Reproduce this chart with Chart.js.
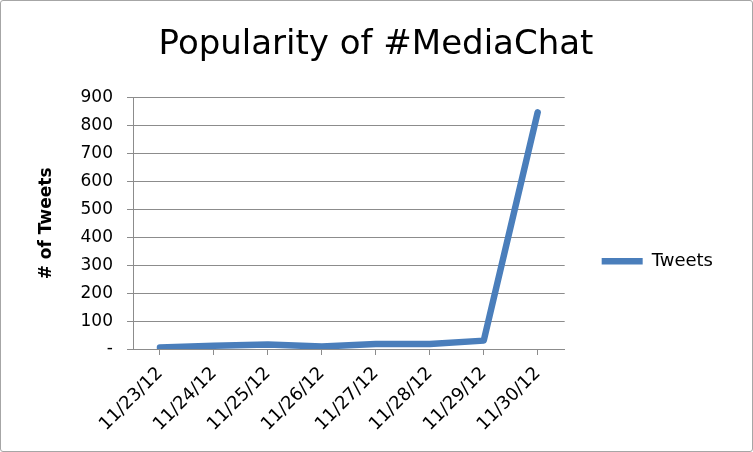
<!DOCTYPE html>
<html>
<head>
<meta charset="utf-8">
<script src="https://cdn.jsdelivr.net/npm/chart.js@4"></script>
<style>
  body { margin: 0; background: #fff; }
  .frame {
    position: absolute; left: 0; top: 0;
    width: 751px; height: 450px;
    border: 1px solid #a6a6a6; border-radius: 3px;
  }
</style>
</head>
<body>
<div class="frame"><canvas id="myChart" width="751" height="450"></canvas></div>
<script>
const dates = ["11/23/12", "11/24/12", "11/25/12", "11/26/12", "11/27/12", "11/28/12", "11/29/12", "11/30/12"];
const tweets = [5, 12, 16, 9, 18, 18, 30, 848];
const yTicks = [0, 100, 200, 300, 400, 500, 600, 700, 800, 900];

const FONT = "'DejaVu Sans', sans-serif";
const myChart = document.getElementById("myChart");

new Chart(myChart, {
    type: "line",
    data: {
        labels: dates,
        datasets: [
            {
                label: "Tweets",
                data: tweets,
                borderColor: "#4a7ebb",
                backgroundColor: "#4a7ebb",
                borderWidth: 6.5,
                borderCapStyle: "round",
                borderJoinStyle: "round",
                pointRadius: 0,
                tension: 0,
            },
        ],
    },
    options: {
        responsive: false,
        animation: false,
        layout: {
            padding: { left: 28, right: 29, top: 0, bottom: 0 },
        },
        scales: {
            x: {
                offset: true,
                grid: {
                    drawOnChartArea: false,
                    drawTicks: true,
                    tickLength: 6,
                    color: "#8c8c8c",
                },
                border: { color: "#8c8c8c", width: 1 },
                ticks: {
                    minRotation: 45,
                    maxRotation: 45,
                    color: "#000",
                    font: { family: FONT, size: 18 },
                    padding: 8,
                },
                afterFit: (s) => { s.height = 102; },
            },
            y: {
                min: 0,
                max: 900,
                afterBuildTicks: (s) => { s.ticks = yTicks.map((v) => ({ value: v })); },
                grid: {
                    color: "#8c8c8c",
                    tickLength: 6,
                },
                border: { color: "#8c8c8c", width: 1 },
                ticks: {
                    color: "#000",
                    font: { family: FONT, size: 17 },
                    padding: 14,
                    callback: (v) => (v === 0 ? "-" : v),
                },
                title: {
                    display: true,
                    text: "# of Tweets",
                    color: "#000",
                    font: { family: FONT, size: 17, weight: "bold" },
                    padding: { top: 7, bottom: 0 },
                },
                afterFit: (s) => { s.width = 104; },
            },
        },
        plugins: {
            title: {
                display: true,
                text: "Popularity of #MediaChat",
                color: "#000",
                font: { family: FONT, size: 34, weight: "normal" },
                padding: { top: 24, bottom: 32 },
            },
            legend: {
                position: "right",
                title: {
                    display: true,
                    text: " ",
                    font: { size: 12 },
                    padding: { top: 0, bottom: 56 },
                },
                labels: {
                    usePointStyle: true,
                    pointStyle: "line",
                    pointStyleWidth: 41,
                    color: "#000",
                    font: { family: FONT, size: 18 },
                    padding: 37,
                },
            },
            tooltip: { enabled: false },
        },
    },
});
</script>
</body>
</html>
